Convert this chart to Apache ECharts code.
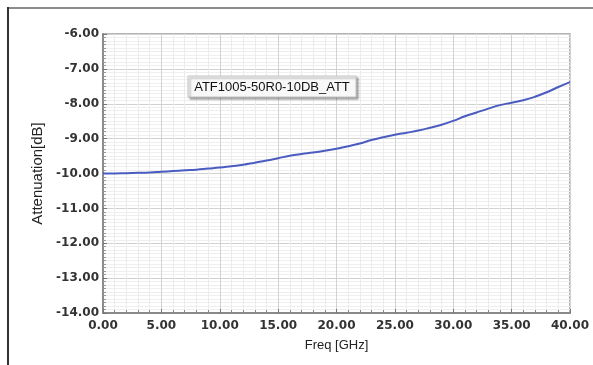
<!DOCTYPE html>
<html>
<head>
<meta charset="utf-8">
<script src="https://cdn.jsdelivr.net/npm/echarts@6/dist/echarts.min.js"></script>
<style>
html,body{margin:0;padding:0;background:#fff;}
#chart{width:593px;height:365px;}
</style>
</head>
<body>
<div id="chart"></div>
<script>
var freqs = [0,1,2,3,4,5,6,7,8,9,10,11,12,13,14,15,16,17,18,19,20,21,22,23,24,25,26,27,28,29,30,31,32,33,34,35,36,37,38,39,40];
var attenuation = [-10.00,-10.00,-9.99,-9.98,-9.97,-9.95,-9.93,-9.91,-9.89,-9.86,-9.83,-9.79,-9.75,-9.69,-9.63,-9.56,-9.49,-9.44,-9.40,-9.35,-9.29,-9.22,-9.14,-9.04,-8.96,-8.89,-8.83,-8.77,-8.69,-8.60,-8.49,-8.36,-8.25,-8.14,-8.04,-7.97,-7.90,-7.80,-7.67,-7.52,-7.38];
var seriesName = 'ATF1005-50R0-10DB_ATT';
var xName = 'Freq [GHz]';
var yName = 'Attenuation[dB]';

var chart = echarts.init(document.getElementById('chart'), null, {renderer:'canvas'});
var data = freqs.map(function(f,i){return [f, attenuation[i]];});
var tickFont = {fontFamily:'DejaVu Sans', fontSize:12, fontWeight:'bold', color:'#333'};
chart.setOption({
  animation:false,
  backgroundColor:'#fff',
  grid:{left:103, right:23, top:34, bottom:52, show:true, borderColor:'#9a9a9a', borderWidth:1.5},
  xAxis:{
    type:'value', min:0, max:40, interval:5,
    name:xName, nameLocation:'middle', nameGap:26,
    nameTextStyle:{fontFamily:'Liberation Sans', fontSize:13, color:'#222'},
    axisLine:{show:true, onZero:false, lineStyle:{color:'#8a8a8a', width:2}},
    axisTick:{show:true, inside:true, length:4, lineStyle:{color:'#777'}},
    minorTick:{show:true, splitNumber:5, length:3, lineStyle:{color:'#888'}},
    splitLine:{show:true, lineStyle:{color:'#d2d2d2', width:1}},
    minorSplitLine:{show:true, lineStyle:{color:'#ececec', width:1}},
    axisLabel:Object.assign({margin:7, formatter:function(v){return v.toFixed(2);}}, tickFont)
  },
  yAxis:{
    type:'value', min:-14, max:-6, interval:1,
    name:yName, nameLocation:'middle', nameGap:44, nameRotate:90,
    nameTextStyle:{fontFamily:'Liberation Sans', fontSize:15, color:'#222'},
    axisLine:{show:true, onZero:false, lineStyle:{color:'#8a8a8a', width:2}},
    axisTick:{show:true, inside:true, length:4, lineStyle:{color:'#777'}},
    minorTick:{show:true, splitNumber:10, length:3, lineStyle:{color:'#999'}},
    splitLine:{show:true, lineStyle:{color:'#d2d2d2', width:1}},
    minorSplitLine:{show:true, lineStyle:{color:'#efefef', width:1}},
    axisLabel:Object.assign({margin:4, formatter:function(v){return v.toFixed(2);}}, tickFont)
  },
  series:[{
    name:seriesName, type:'line', data:data, smooth:true, showSymbol:false,
    lineStyle:{color:'#4a5cc0', width:2}
  }],
  graphic:[
    {type:'line', z:100, shape:{x1:7, y1:8, x2:593, y2:8}, style:{stroke:'#8c8c8c', lineWidth:2}},
    {type:'line', z:100, shape:{x1:8, y1:7, x2:8, y2:365}, style:{stroke:'#333', lineWidth:2}},
    {type:'rect', z:100, shape:{x:188, y:76, width:168, height:21},
     style:{fill:'#f8f8f8', stroke:'#c4c4c4', lineWidth:1, shadowBlur:2, shadowOffsetX:2, shadowOffsetY:2, shadowColor:'rgba(0,0,0,0.35)'}},
    {type:'text', z:101, x:272, y:87, style:{text:seriesName, fontFamily:'Liberation Sans', fontSize:13, fill:'#111', textAlign:'center', textVerticalAlign:'middle'}}
  ]
});
</script>
</body>
</html>
